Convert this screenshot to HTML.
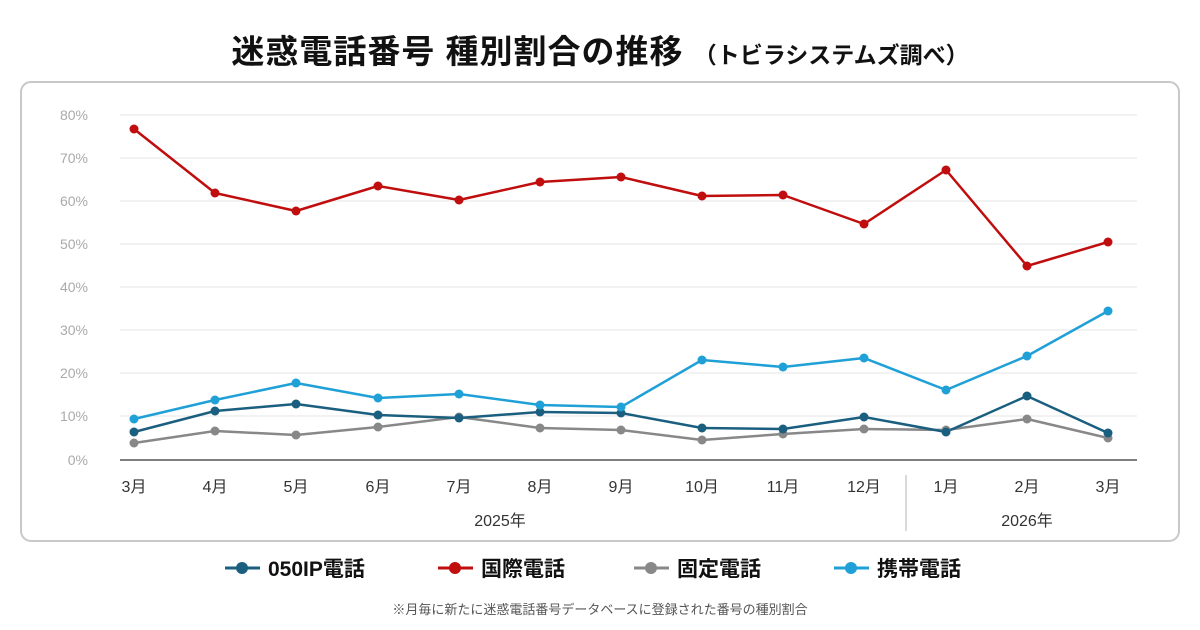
<!DOCTYPE html>
<html><head><meta charset="utf-8"><style>
html,body{margin:0;padding:0;background:#fff;width:1200px;height:630px;overflow:hidden}
svg{display:block;font-family:"Liberation Sans","Noto Sans CJK JP",sans-serif}
</style></head><body>
<svg width="1200" height="630" viewBox="0 0 1200 630">
<text x="600" y="63" text-anchor="middle" font-size="33" font-weight="bold" fill="#111" letter-spacing="1">迷惑電話番号 種別割合の推移 <tspan font-size="23" letter-spacing="0">（トビラシステムズ調べ）</tspan></text>
<rect x="21" y="82" width="1158" height="459" rx="10" fill="#fff" stroke="#c8c8c8" stroke-width="2"/>
<g stroke="#e6e6e6" stroke-width="1">
<line x1="120" y1="115" x2="1137" y2="115"/><line x1="120" y1="158" x2="1137" y2="158"/><line x1="120" y1="201" x2="1137" y2="201"/><line x1="120" y1="244" x2="1137" y2="244"/><line x1="120" y1="287" x2="1137" y2="287"/><line x1="120" y1="330" x2="1137" y2="330"/><line x1="120" y1="373" x2="1137" y2="373"/><line x1="120" y1="416" x2="1137" y2="416"/>
</g>
<line x1="120" y1="460" x2="1137" y2="460" stroke="#555" stroke-width="1.5"/>
<g font-size="14" fill="#aaa" text-anchor="end">
<text x="88" y="120">80%</text><text x="88" y="163">70%</text><text x="88" y="206">60%</text><text x="88" y="249">50%</text><text x="88" y="292">40%</text><text x="88" y="335">30%</text><text x="88" y="378">20%</text><text x="88" y="421">10%</text><text x="88" y="465">0%</text>
</g>
<g font-size="16" fill="#333" text-anchor="middle">
<text x="134" y="492">3月</text><text x="215" y="492">4月</text><text x="296" y="492">5月</text><text x="378" y="492">6月</text><text x="459" y="492">7月</text><text x="540" y="492">8月</text><text x="621" y="492">9月</text><text x="702" y="492">10月</text><text x="783" y="492">11月</text><text x="864" y="492">12月</text><text x="946" y="492">1月</text><text x="1027" y="492">2月</text><text x="1108" y="492">3月</text>
<text x="500" y="526">2025年</text><text x="1027" y="526">2026年</text>
</g>
<line x1="906" y1="475" x2="906" y2="531" stroke="#ccc" stroke-width="1.5"/>
<g fill="none" stroke-width="2.5" stroke-linejoin="round">
<polyline stroke="#888" points="134,443 215,431 296,435 378,427 459,417 540,428 621,430 702,440 783,434 864,429 946,430 1027,419 1108,438"/>
<polyline stroke="#1a5f7f" points="134,432 215,411 296,404 378,415 459,418 540,412 621,413 702,428 783,429 864,417 946,432 1027,396 1108,433"/>
<polyline stroke="#1fa0d6" points="134,419 215,400 296,383 378,398 459,394 540,405 621,407 702,360 783,367 864,358 946,390 1027,356 1108,311"/>
<polyline stroke="#c00d0d" points="134,129 215,193 296,211 378,186 459,200 540,182 621,177 702,196 783,195 864,224 946,170 1027,266 1108,242"/>
</g>
<g fill="#888"><circle cx="134" cy="443" r="4.5"/><circle cx="215" cy="431" r="4.5"/><circle cx="296" cy="435" r="4.5"/><circle cx="378" cy="427" r="4.5"/><circle cx="459" cy="417" r="4.5"/><circle cx="540" cy="428" r="4.5"/><circle cx="621" cy="430" r="4.5"/><circle cx="702" cy="440" r="4.5"/><circle cx="783" cy="434" r="4.5"/><circle cx="864" cy="429" r="4.5"/><circle cx="946" cy="430" r="4.5"/><circle cx="1027" cy="419" r="4.5"/><circle cx="1108" cy="438" r="4.5"/></g>
<g fill="#1a5f7f"><circle cx="134" cy="432" r="4.5"/><circle cx="215" cy="411" r="4.5"/><circle cx="296" cy="404" r="4.5"/><circle cx="378" cy="415" r="4.5"/><circle cx="459" cy="418" r="4.5"/><circle cx="540" cy="412" r="4.5"/><circle cx="621" cy="413" r="4.5"/><circle cx="702" cy="428" r="4.5"/><circle cx="783" cy="429" r="4.5"/><circle cx="864" cy="417" r="4.5"/><circle cx="946" cy="432" r="4.5"/><circle cx="1027" cy="396" r="4.5"/><circle cx="1108" cy="433" r="4.5"/></g>
<g fill="#1fa0d6"><circle cx="134" cy="419" r="4.5"/><circle cx="215" cy="400" r="4.5"/><circle cx="296" cy="383" r="4.5"/><circle cx="378" cy="398" r="4.5"/><circle cx="459" cy="394" r="4.5"/><circle cx="540" cy="405" r="4.5"/><circle cx="621" cy="407" r="4.5"/><circle cx="702" cy="360" r="4.5"/><circle cx="783" cy="367" r="4.5"/><circle cx="864" cy="358" r="4.5"/><circle cx="946" cy="390" r="4.5"/><circle cx="1027" cy="356" r="4.5"/><circle cx="1108" cy="311" r="4.5"/></g>
<g fill="#c00d0d"><circle cx="134" cy="129" r="4.5"/><circle cx="215" cy="193" r="4.5"/><circle cx="296" cy="211" r="4.5"/><circle cx="378" cy="186" r="4.5"/><circle cx="459" cy="200" r="4.5"/><circle cx="540" cy="182" r="4.5"/><circle cx="621" cy="177" r="4.5"/><circle cx="702" cy="196" r="4.5"/><circle cx="783" cy="195" r="4.5"/><circle cx="864" cy="224" r="4.5"/><circle cx="946" cy="170" r="4.5"/><circle cx="1027" cy="266" r="4.5"/><circle cx="1108" cy="242" r="4.5"/></g>
<g font-size="21" font-weight="bold" fill="#111">
<line x1="225" y1="568" x2="260" y2="568" stroke="#1a5f7f" stroke-width="3"/><circle cx="242" cy="568" r="6" fill="#1a5f7f"/><text x="268" y="576">050IP電話</text>
<line x1="438" y1="568" x2="473" y2="568" stroke="#c00d0d" stroke-width="3"/><circle cx="455" cy="568" r="6" fill="#c00d0d"/><text x="481" y="576">国際電話</text>
<line x1="634" y1="568" x2="669" y2="568" stroke="#888" stroke-width="3"/><circle cx="651" cy="568" r="6" fill="#888"/><text x="677" y="576">固定電話</text>
<line x1="834" y1="568" x2="869" y2="568" stroke="#1fa0d6" stroke-width="3"/><circle cx="851" cy="568" r="6" fill="#1fa0d6"/><text x="877" y="576">携帯電話</text>
</g>
<text x="600" y="614" text-anchor="middle" font-size="13" fill="#555">※月毎に新たに迷惑電話番号データベースに登録された番号の種別割合</text>
</svg>
</body></html>
